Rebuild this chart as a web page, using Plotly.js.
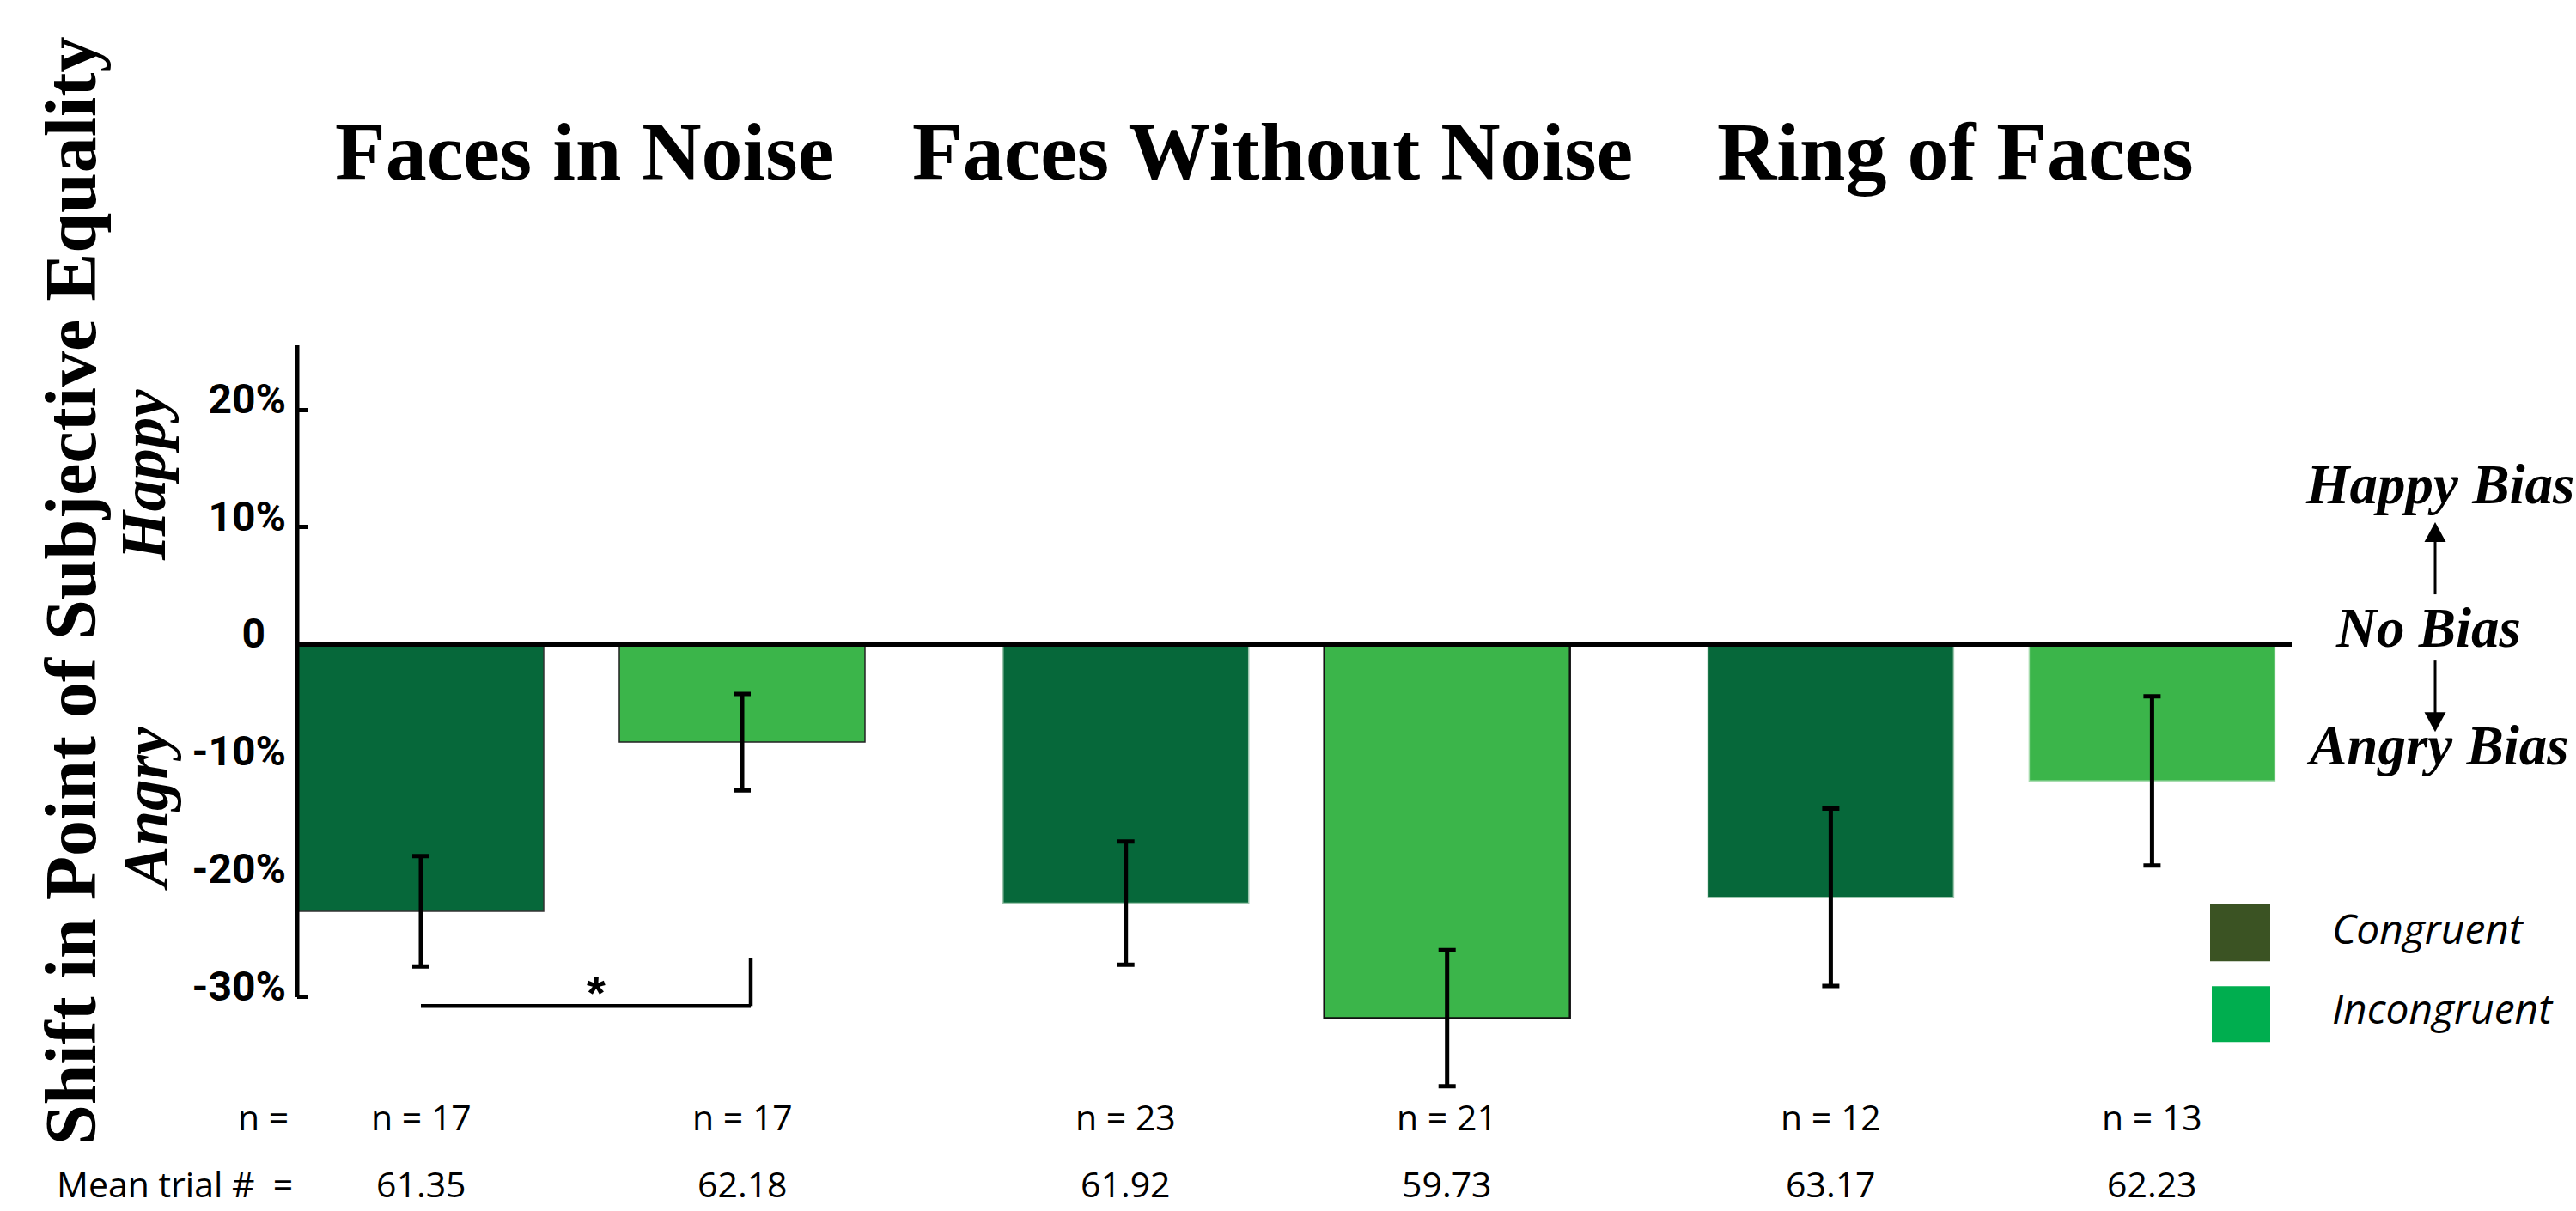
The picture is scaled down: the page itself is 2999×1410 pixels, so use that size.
<!DOCTYPE html>
<html>
<head>
<meta charset="utf-8">
<script src="https://cdn.plot.ly/plotly-3.0.1.min.js"></script>
<style>html,body{margin:0;padding:0;background:#fff;}#chart{width:2999px;height:1410px;}</style>
</head>
<body>
<div id="chart"></div>
<script>
// ---------------- data ----------------
const conditions = ['Faces in Noise', 'Faces Without Noise', 'Ring of Faces'];
const congruentShift = [-22.7, -22.0, -21.5];
const congruentErr = [4.7, 5.25, 7.55];
const incongruentShift = [-8.3, -31.8, -11.6];
const incongruentErr = [4.1, 5.8, 7.2];
const congruentN = [17, 23, 12];
const incongruentN = [17, 21, 13];
const congruentMeanTrial = [61.35, 61.92, 63.17];
const incongruentMeanTrial = [62.18, 59.73, 62.23];
const tickVals = [-30, -20, -10, 0, 10, 20];
const tickText = ['-30%', '-20%', '-10%', '0\u00a0\u00a0', '10%', '20%'];
const seriesNames = ['Congruent', 'Incongruent'];
const biasLabels = ['Happy Bias', 'No Bias', 'Angry Bias'];

// ---------------- geometry / style ----------------
const W = 2999, H = 1410;
const ml = 346, pw = 2322, mr = W - ml - pw;
const yMin = -39, yMax = 26;
const zeroPx = 750.5, pxPerUnit = 13.67;
const mt = zeroPx - yMax * pxPerUnit;
const ph = (yMax - yMin) * pxPerUnit;
const mb = H - mt - ph;
const catPx = 820.7;                    // pixels per category
const xr0 = -(677 - ml) / catPx;        // left end of category range
const xRange = [xr0, xr0 + pw / catPx];
const bargap = 0.0886, bargroupgap = 0.2353;
const dU = (1 - bargap) / 4;            // half distance between grouped bars (axis units)

const px2x = X => (X - ml) / pw;
const px2y = Y => (mt + ph - Y) / ph;
const px2val = Y => (zeroPx - Y) / pxPerUnit;

const darkBar = '#06683A', lightBar = '#3BB54A';
const legendDark = '#3B5323', legendLight = '#00AE4F';
const serif = 'Liberation Serif, Times New Roman, serif';
const tickFamily = 'Roboto, Liberation Sans, Arial, sans-serif';
const sans = 'Open Sans, sans-serif';

// ---------------- traces ----------------
const traces = [
  {
    type: 'bar', name: seriesNames[0], x: conditions, y: congruentShift,
    marker: { color: darkBar, line: { color: ['#333333', '#9cc5ad', '#9cc5ad'], width: 1.5 } },
    error_y: { type: 'data', array: congruentErr, visible: true, color: '#000', thickness: 5, width: 10 },
    showlegend: false, hoverinfo: 'none'
  },
  {
    type: 'bar', name: seriesNames[1], x: conditions, y: incongruentShift,
    marker: { color: lightBar, line: { color: ['#222222', '#111111', '#a6dcae'], width: [1.5, 2.5, 1.5] } },
    error_y: { type: 'data', array: incongruentErr, visible: true, color: '#000', thickness: 5, width: 10 },
    showlegend: false, hoverinfo: 'none'
  }
];

// ---------------- annotations ----------------
const annotations = [];
const titleCenters = [680, 1481, 2276];
conditions.forEach((c, i) => {
  annotations.push({
    text: c, xref: 'paper', yref: 'paper', x: px2x(titleCenters[i]), y: px2y(176.6),
    xanchor: 'center', yanchor: 'middle', showarrow: false,
    font: { family: serif, size: 96, weight: 'bold', color: '#000' }
  });
});
annotations.push({
  text: 'Shift in Point of Subjective Equality', textangle: -90,
  xref: 'paper', yref: 'paper', x: px2x(82), y: px2y(688),
  xanchor: 'center', yanchor: 'middle', showarrow: false,
  font: { family: serif, size: 84, weight: 'bold', color: '#000' }
});
annotations.push({
  text: 'Happy', textangle: -90, xref: 'paper', yref: 'paper', x: px2x(168), y: px2y(553),
  xanchor: 'center', yanchor: 'middle', showarrow: false,
  font: { family: serif, size: 73, weight: 'bold', style: 'italic', color: '#000' }
});
annotations.push({
  text: 'Angry', textangle: -90, xref: 'paper', yref: 'paper', x: px2x(170), y: px2y(942),
  xanchor: 'center', yanchor: 'middle', showarrow: false,
  font: { family: serif, size: 73, weight: 'bold', style: 'italic', color: '#000' }
});
const biasPos = [[2840, 564], [2827, 731], [2838, 868]];
biasLabels.forEach((t, i) => {
  annotations.push({
    text: t, xref: 'paper', yref: 'paper', x: px2x(biasPos[i][0]), y: px2y(biasPos[i][1]),
    xanchor: 'center', yanchor: 'middle', showarrow: false,
    font: { family: serif, size: 65, weight: 'bold', style: 'italic', color: '#000' }
  });
});
// n and mean trial rows
const rowFont = { family: sans, size: 41, color: '#000' };
const nRowY = px2y(1300), meanRowY = px2y(1378);
annotations.push({ text: 'n =', xref: 'paper', yref: 'paper', x: px2x(306), y: nRowY,
  xanchor: 'center', yanchor: 'middle', showarrow: false, font: rowFont });
annotations.push({ text: 'Mean trial #\u00a0\u00a0=', xref: 'paper', yref: 'paper', x: px2x(203), y: meanRowY,
  xanchor: 'center', yanchor: 'middle', showarrow: false, font: rowFont });
conditions.forEach((c, i) => {
  annotations.push({ text: 'n = ' + congruentN[i], xref: 'x', yref: 'paper', x: i - dU, y: nRowY,
    xanchor: 'center', yanchor: 'middle', showarrow: false, font: rowFont });
  annotations.push({ text: 'n = ' + incongruentN[i], xref: 'x', yref: 'paper', x: i + dU, y: nRowY,
    xanchor: 'center', yanchor: 'middle', showarrow: false, font: rowFont });
  annotations.push({ text: congruentMeanTrial[i].toFixed(2), xref: 'x', yref: 'paper', x: i - dU, y: meanRowY,
    xanchor: 'center', yanchor: 'middle', showarrow: false, font: rowFont });
  annotations.push({ text: incongruentMeanTrial[i].toFixed(2), xref: 'x', yref: 'paper', x: i + dU, y: meanRowY,
    xanchor: 'center', yanchor: 'middle', showarrow: false, font: rowFont });
});
// legend text
const legendFont = { family: sans, size: 48, style: 'italic', color: '#000' };
annotations.push({ text: seriesNames[0], xref: 'paper', yref: 'paper', x: px2x(2713), y: px2y(1080),
  xanchor: 'left', yanchor: 'middle', showarrow: false, font: legendFont });
annotations.push({ text: seriesNames[1], xref: 'paper', yref: 'paper', x: px2x(2713), y: px2y(1173),
  xanchor: 'left', yanchor: 'middle', showarrow: false, font: legendFont });

// significance bracket between the two Faces in Noise bars
const brX0 = -dU, brX1 = dU + 10 / catPx;
const brLow = px2val(1171), brHigh = px2val(1115);
annotations.push({ text: '*', xref: 'x', yref: 'y', x: (brX0 + brX1) / 2 + 12 / catPx, y: px2val(1155),
  xanchor: 'center', yanchor: 'middle', showarrow: false,
  font: { family: 'Liberation Sans, Arial, sans-serif', size: 56, weight: 'bold', color: '#000' } });

// ---------------- shapes ----------------
const shapes = [
  // y axis line
  { type: 'line', xref: 'paper', yref: 'y', x0: 0, x1: 0, y0: -30, y1: px2val(402), line: { color: '#000', width: 5 }, layer: 'above' },
  // zero line
  { type: 'line', xref: 'paper', yref: 'y', x0: 0, x1: 1, y0: 0, y1: 0, line: { color: '#000', width: 5 }, layer: 'above' },
  // bracket
  { type: 'line', xref: 'x', yref: 'y', x0: brX0, x1: brX1, y0: brLow, y1: brLow, line: { color: '#000', width: 4.5 } },
  { type: 'line', xref: 'x', yref: 'y', x0: brX1, x1: brX1, y0: brLow, y1: brHigh, line: { color: '#000', width: 4.5 } },
  // bias arrows
  { type: 'line', xref: 'paper', yref: 'paper', x0: px2x(2835), x1: px2x(2835), y0: px2y(692), y1: px2y(628), line: { color: '#000', width: 3 } },
  { type: 'path', xref: 'paper', yref: 'paper',
    path: `M ${px2x(2822.5)},${px2y(631)} L ${px2x(2847.5)},${px2y(631)} L ${px2x(2835)},${px2y(608)} Z`,
    fillcolor: '#000', line: { width: 0 } },
  { type: 'line', xref: 'paper', yref: 'paper', x0: px2x(2835), x1: px2x(2835), y0: px2y(769), y1: px2y(832), line: { color: '#000', width: 3 } },
  { type: 'path', xref: 'paper', yref: 'paper',
    path: `M ${px2x(2822.5)},${px2y(829)} L ${px2x(2847.5)},${px2y(829)} L ${px2x(2835)},${px2y(852)} Z`,
    fillcolor: '#000', line: { width: 0 } },
  // legend swatches
  { type: 'rect', xref: 'paper', yref: 'paper', x0: px2x(2573), x1: px2x(2643), y0: px2y(1119), y1: px2y(1052),
    fillcolor: legendDark, line: { width: 0 } },
  { type: 'rect', xref: 'paper', yref: 'paper', x0: px2x(2575), x1: px2x(2643), y0: px2y(1213), y1: px2y(1148),
    fillcolor: legendLight, line: { width: 0 } }
];

// ---------------- layout ----------------
const layout = {
  width: W, height: H,
  margin: { l: ml, r: mr, t: mt, b: mb, pad: 0, autoexpand: false },
  paper_bgcolor: '#fff', plot_bgcolor: '#fff',
  barmode: 'group', bargap: bargap, bargroupgap: bargroupgap,
  showlegend: false,
  xaxis: {
    type: 'category', range: xRange, showticklabels: false, ticks: '',
    showline: false, showgrid: false, zeroline: false, fixedrange: true
  },
  yaxis: {
    range: [yMin, yMax], tickmode: 'array', tickvals: tickVals, ticktext: tickText,
    ticks: 'inside', ticklen: 13, tickwidth: 5, tickcolor: '#000',
    showline: false, showgrid: false, zeroline: false, layer: 'below traces',
    tickfont: { family: tickFamily, size: 48, weight: 'bold', color: '#000' },
    ticklabelshift: -13, ticklabelstandoff: 12, fixedrange: true
  },
  annotations: annotations,
  shapes: shapes
};

Plotly.newPlot('chart', traces, layout, { staticPlot: true, displayModeBar: false });
</script>
</body>
</html>
